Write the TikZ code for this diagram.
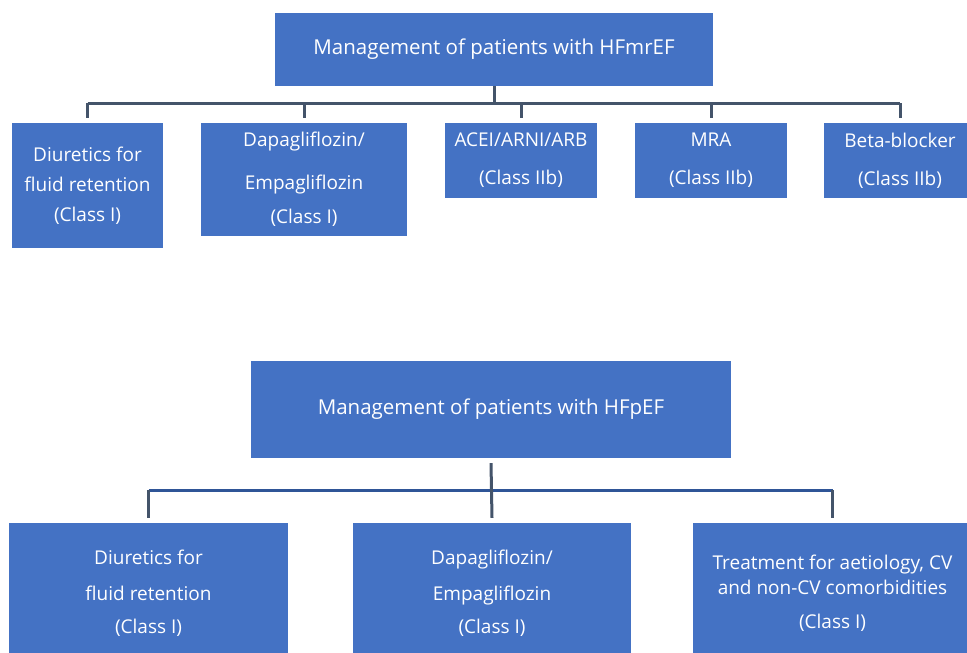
\documentclass[tikz,border=0pt]{standalone}
\usepackage{fontspec}
\setmainfont{Open Sans}
\definecolor{boxblue}{HTML}{4472C4}
\definecolor{linegray}{HTML}{44546A}
\definecolor{linenavy}{HTML}{2F5597}
\begin{document}
\begin{tikzpicture}[x=1pt,y=-1pt,
  box/.style={rectangle, fill=boxblue, draw=none, text=white, align=center, inner sep=0pt},
  ttl/.style={box, font=\fontsize{20.5}{24}\selectfont},
  kid/.style={box, font=\fontsize{19}{31}\selectfont},
  conn/.style={draw=linegray, line width=3pt},
  connb/.style={draw=linenavy, line width=3pt}]
\useasboundingbox (0,0) rectangle (967,653);
\clip (0,0) rectangle (967,653);
\fill[white] (0,0) rectangle (967,653);

% ---------- HFmrEF ----------
\node[ttl, minimum width=438pt, minimum height=73pt] (T1) at (494,49.5) {Management of patients with HFmrEF};

\node[kid, minimum width=151pt, minimum height=125pt, font=\fontsize{19}{30}\selectfont] (c1) at (87.5,185.5)
  {Diuretics for\\fluid retention\\(Class I)};
\node[kid, minimum width=206pt, minimum height=113pt] (c2) at (304,179.5)
  {Dapagliflozin/\\[12pt]Empagliflozin\\[3pt](Class I)};
\node[kid, minimum width=152pt, minimum height=75pt] (c3) at (521,160.5)
  {ACEI/ARNI/ARB\\[7pt](Class IIb)};
\node[kid, minimum width=152pt, minimum height=75pt] (c4) at (711,160.5)
  {MRA\\[7pt](Class IIb)};
\node[kid, minimum width=152pt, minimum height=75pt] (c5) at (900,160.5)
  {Beta-blocker\\[7pt](Class IIb)};

\coordinate (b1) at (494,103);
\draw[conn] (T1.south) -- (b1);
\draw[conn] (c1.north |- b1) -- (c5.north |- b1);
\foreach \c in {c1,c2,c3,c4,c5}
  \draw[conn] (\c.north |- b1) -- ([yshift=5pt]\c.north);

% ---------- HFpEF ----------
\node[ttl, minimum width=480pt, minimum height=97pt] (T2) at (491,409.5) {Management of patients with HFpEF};

\node[kid, minimum width=279pt, minimum height=140pt, font=\fontsize{19}{33}\selectfont] (d1) at (148.5,593)
  {Diuretics for\\[3pt]fluid retention\\(Class I)};
\node[kid, minimum width=278pt, minimum height=140pt, font=\fontsize{19}{33}\selectfont] (d2) at (492,593)
  {Dapagliflozin/\\[3pt]Empagliflozin\\(Class I)};
\node[kid, minimum width=279pt, minimum height=140pt, font=\fontsize{19}{25}\selectfont] (d3) at (832.5,593)
  {Treatment for aetiology, CV\\and non-CV comorbidities\\[9pt](Class I)};

\coordinate (b2) at (491,490);
\draw[connb] (d1.north |- b2) -- (d3.north |- b2);
\draw[conn] ([yshift=-5pt]T2.south) -- ([yshift=5pt]d2.north);
\draw[conn] (d1.north |- b2) -- ([yshift=5pt]d1.north);
\draw[conn] (d3.north |- b2) -- ([yshift=5pt]d3.north);
\end{tikzpicture}
\end{document}
